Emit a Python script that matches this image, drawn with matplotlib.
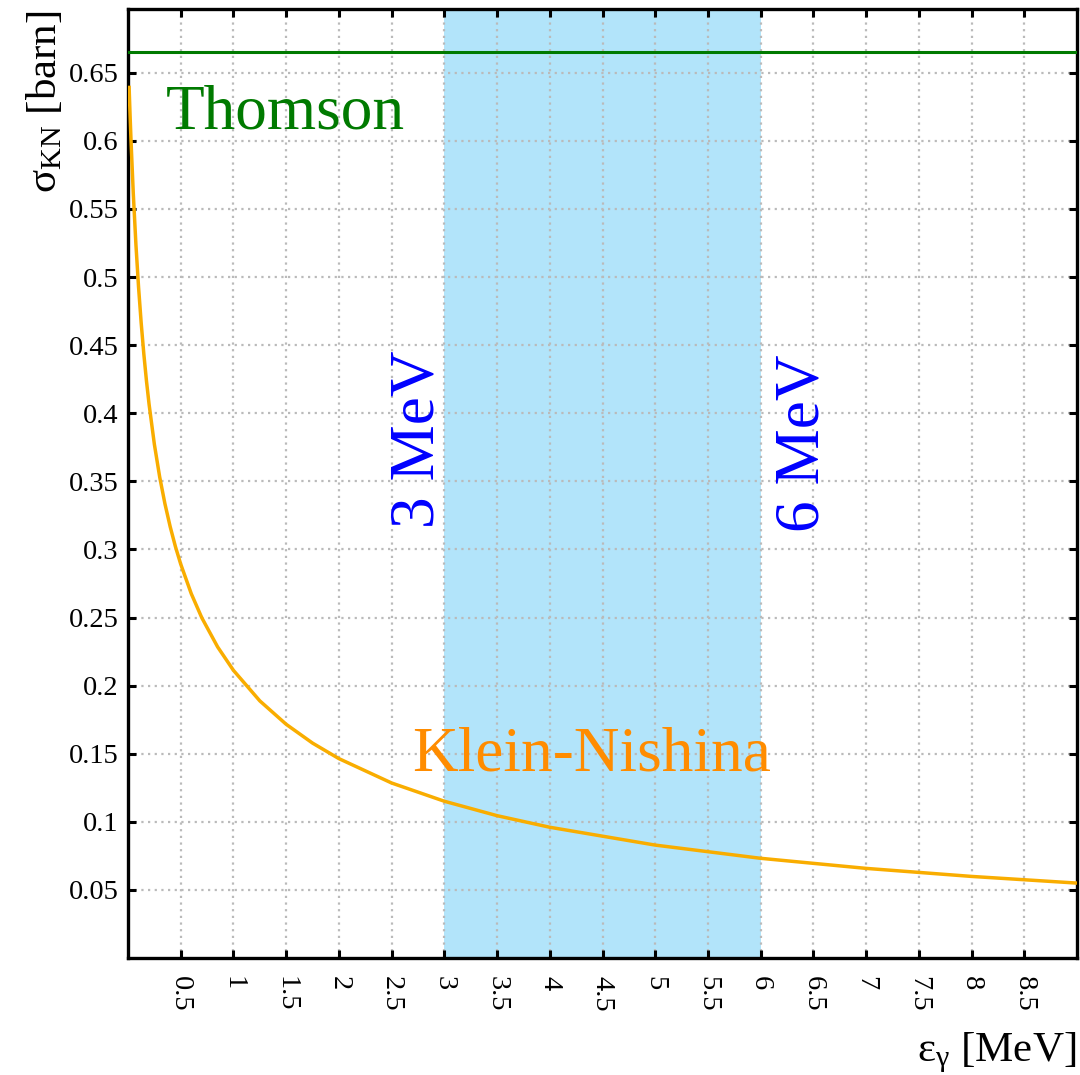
import matplotlib
matplotlib.use("Agg")
import matplotlib.pyplot as plt

plt.rcParams["font.family"] = ["Liberation Serif", "DejaVu Serif"]
plt.rcParams["mathtext.fontset"] = "custom"
plt.rcParams["mathtext.rm"] = "Liberation Serif"
plt.rcParams["mathtext.it"] = "Liberation Serif:italic"
plt.rcParams["mathtext.bf"] = "Liberation Serif:bold"

# Total Compton cross-section per electron (barn) vs photon energy (MeV)
energy_mev = [0.01, 0.02, 0.03, 0.05, 0.075, 0.1, 0.125, 0.15, 0.175, 0.2,
              0.25, 0.3, 0.35, 0.4, 0.45, 0.5, 0.6, 0.7, 0.85, 1.0, 1.25,
              1.5, 1.75, 2.0, 2.5, 3.0, 3.5, 4.0, 5.0, 6.0, 7.0, 8.0, 9.0]
sigma_kn = [0.6405, 0.6180, 0.5975, 0.5615, 0.5240, 0.4927, 0.4663, 0.4436,
            0.4238, 0.4065, 0.3772, 0.3534, 0.3336, 0.3167, 0.3020, 0.2892,
            0.2675, 0.2498, 0.2284, 0.2112, 0.1888, 0.1716, 0.1578, 0.1464,
            0.1285, 0.1151, 0.1045, 0.0960, 0.0829, 0.0732, 0.0658, 0.0599,
            0.0550]
sigma_thomson = 0.6652
band_mev = [3.0, 6.0]

x_ticks = [0.5, 1, 1.5, 2, 2.5, 3, 3.5, 4, 4.5, 5, 5.5, 6, 6.5, 7, 7.5, 8, 8.5]
x_tick_labels = ["0.5", "1", "1.5", "2", "2.5", "3", "3.5", "4", "4.5", "5",
                 "5.5", "6", "6.5", "7", "7.5", "8", "8.5"]
y_ticks = [0.05, 0.1, 0.15, 0.2, 0.25, 0.3, 0.35, 0.4, 0.45, 0.5, 0.55, 0.6,
           0.65]
y_tick_labels = ["0.05", "0.1", "0.15", "0.2", "0.25", "0.3", "0.35", "0.4",
                 "0.45", "0.5", "0.55", "0.6", "0.65"]

fig = plt.figure(figsize=(10.8, 10.75), dpi=100)
ax = fig.add_axes([128 / 1080, 1 - 958 / 1075, (1077 - 128) / 1080,
                   (958 - 9) / 1075])

ax.axvspan(band_mev[0], band_mev[1], color="#b2e4fa", lw=0, zorder=1)
ax.axhline(sigma_thomson, color="#007a00", lw=2.2, zorder=3)
ax.plot(energy_mev, sigma_kn, color="#f9ad00", lw=2.5, zorder=3,
        solid_joinstyle="round", solid_capstyle="butt")

ax.set_xlim(0, 9)
ax.set_ylim(0, 0.6968)
ax.set_xticks(x_ticks)
ax.set_xticklabels(x_tick_labels, rotation=-90)
ax.set_yticks(y_ticks)
ax.set_yticklabels(y_tick_labels)

ax.grid(True, color="#bababa", lw=1.6, linestyle=(0, (1, 2)))
ax.tick_params(direction="in", length=6, width=2.2, top=True, right=True,
               labelsize=20.5, colors="black")
ax.tick_params(axis="x", pad=13)
ax.tick_params(axis="y", pad=7)
for s in ax.spines.values():
    s.set_linewidth(2.4)

ax.text(0.36, 0.6094, "Thomson", color="#007a00", fontsize=45.5,
        ha="left", va="baseline", zorder=4)
ax.text(2.69, 0.138, "Klein-Nishina", color="#ff8c00", fontsize=45.5,
        ha="left", va="baseline", zorder=4)
ax.text(2.896, 0.3157, "3 MeV", color="#0000ff", fontsize=45.5,
        rotation=90, rotation_mode="anchor", ha="left", va="baseline",
        zorder=4)
ax.text(6.549, 0.3128, "6 MeV", color="#0000ff", fontsize=45.5,
        rotation=90, rotation_mode="anchor", ha="left", va="baseline",
        zorder=4)

fig.text(1076 / 1080, 1 - 1061 / 1075, r"ε$_{\mathrm{γ}}$ [MeV]",
         fontsize=31, ha="right", va="baseline")
fig.text(56 / 1080, 1 - 10 / 1075, r"σ$_{\mathrm{KN}}$ [barn]",
         fontsize=31, rotation=90, rotation_mode="anchor",
         ha="right", va="baseline")

fig.savefig("out.png", dpi=100)
